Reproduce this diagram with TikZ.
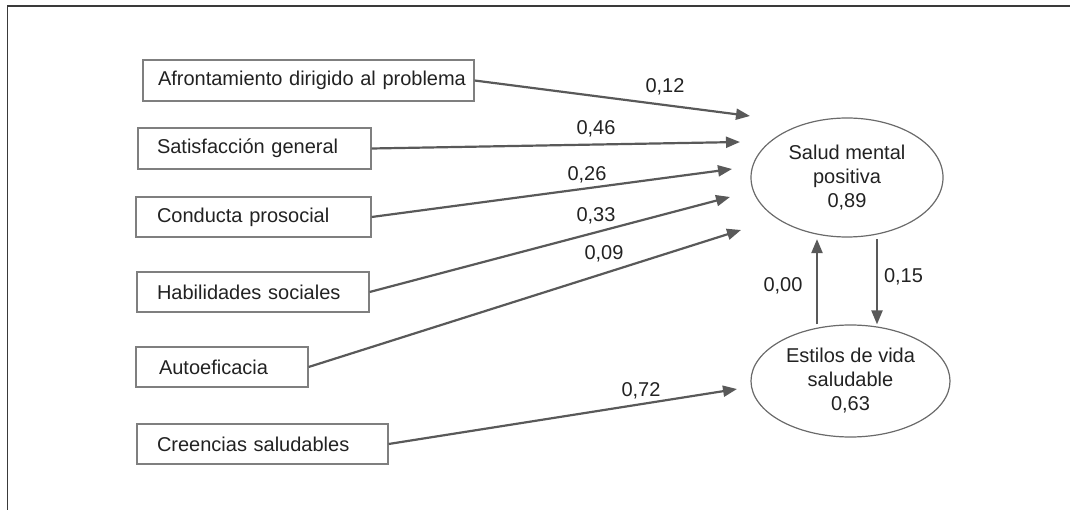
\documentclass[tikz,border=0pt]{standalone}
\usepackage{fontspec}
\setmainfont{Liberation Sans}
\usetikzlibrary{arrows.meta,shapes.geometric}
\definecolor{linegray}{HTML}{595959}
\definecolor{boxgray}{HTML}{7F7F7F}
\definecolor{ovalgray}{HTML}{6A6A6A}
\definecolor{framegray}{HTML}{3A3A3A}
\definecolor{txt}{HTML}{222222}
\begin{document}
\begin{tikzpicture}[x=1pt,y=-1pt,
  font=\fontsize{20}{24}\selectfont, text=txt,
  box/.style={draw=boxgray, line width=1.2pt, rectangle, inner xsep=0pt, inner ysep=0pt, minimum height=41pt, align=left},
  oval/.style={draw=ovalgray, line width=1.2pt, ellipse, inner sep=0pt, align=center},
  arr/.style={draw=linegray, line width=2.2pt, -{Triangle[length=14pt,width=11pt]}},
  coef/.style={anchor=base, inner sep=0pt}]
\useasboundingbox (0,0) rectangle (1070,510);
\draw[line width=1.5pt, draw=framegray] (7.5,510) -- (7.5,6) -- (1070,6);

% predictor boxes
\node[box, text width=331pt] (a)  at (308.5,80.5) {\noindent\hspace*{15pt}Afrontamiento dirigido al problema};
\node[box, text width=233pt] (s)  at (254.5,148.5) {\noindent\hspace*{19pt}Satisfacción general};
\node[box, text width=235pt, minimum height=40pt] (c)  at (253.5,217) {\noindent\hspace*{21pt}Conducta prosocial};
\node[box, text width=232pt, minimum height=40pt] (h)  at (253,292) {\noindent\hspace*{20pt}Habilidades sociales};
\node[box, text width=172pt, minimum height=40pt] (au) at (222,367) {\noindent\hspace*{23pt}Autoeficacia};
\node[box, text width=251pt, minimum height=40pt] (cr) at (262.5,444) {\noindent\hspace*{20pt}Creencias saludables};

% outcome ellipses
\node[oval, minimum width=192pt, minimum height=119pt] (sm) at (847,177.5) {Salud mental\\positiva\\0,89};
\node[oval, minimum width=199pt, minimum height=112pt] (es) at (850.5,381) {Estilos de vida\\saludable\\0,63};

% arrow tips
\coordinate (t1) at (750,116);
\coordinate (t2) at (740,142);
\coordinate (t3) at (732,169);
\coordinate (t4) at (730,197);
\coordinate (t5) at (741,230);
\coordinate (t6) at (737,389);

\draw[arr] (a.east) -- (t1);
\draw[arr] (s.east) -- (t2);
\draw[arr] (c.east) -- (t3);
\draw[arr] (h.east) -- (t4);
\draw[arr] (au.east) -- (t5);
\draw[arr] (cr.east) -- (t6);

\draw[arr] ([xshift=-33.5pt]es.north) -- ([xshift=-30pt,yshift=-1.5pt]sm.south);
\draw[arr] ([xshift=30pt,yshift=-1.5pt]sm.south) -- ([xshift=26.5pt]es.north);

% coefficients
\node[coef] (l1) at (665,93) {0,12};
\node[coef] (l2) at (596,135) {0,46};
\node[coef] (l3) at (587,181) {0,26};
\node[coef] (l4) at (596,222) {0,33};
\node[coef] (l5) at (604,260) {0,09};
\node[coef] (l6) at (641,396) {0,72};
\node[coef] (l7) at (783,292) {0,00};
\node[coef] (l8) at (903.5,283) {0,15};
\end{tikzpicture}
\end{document}
